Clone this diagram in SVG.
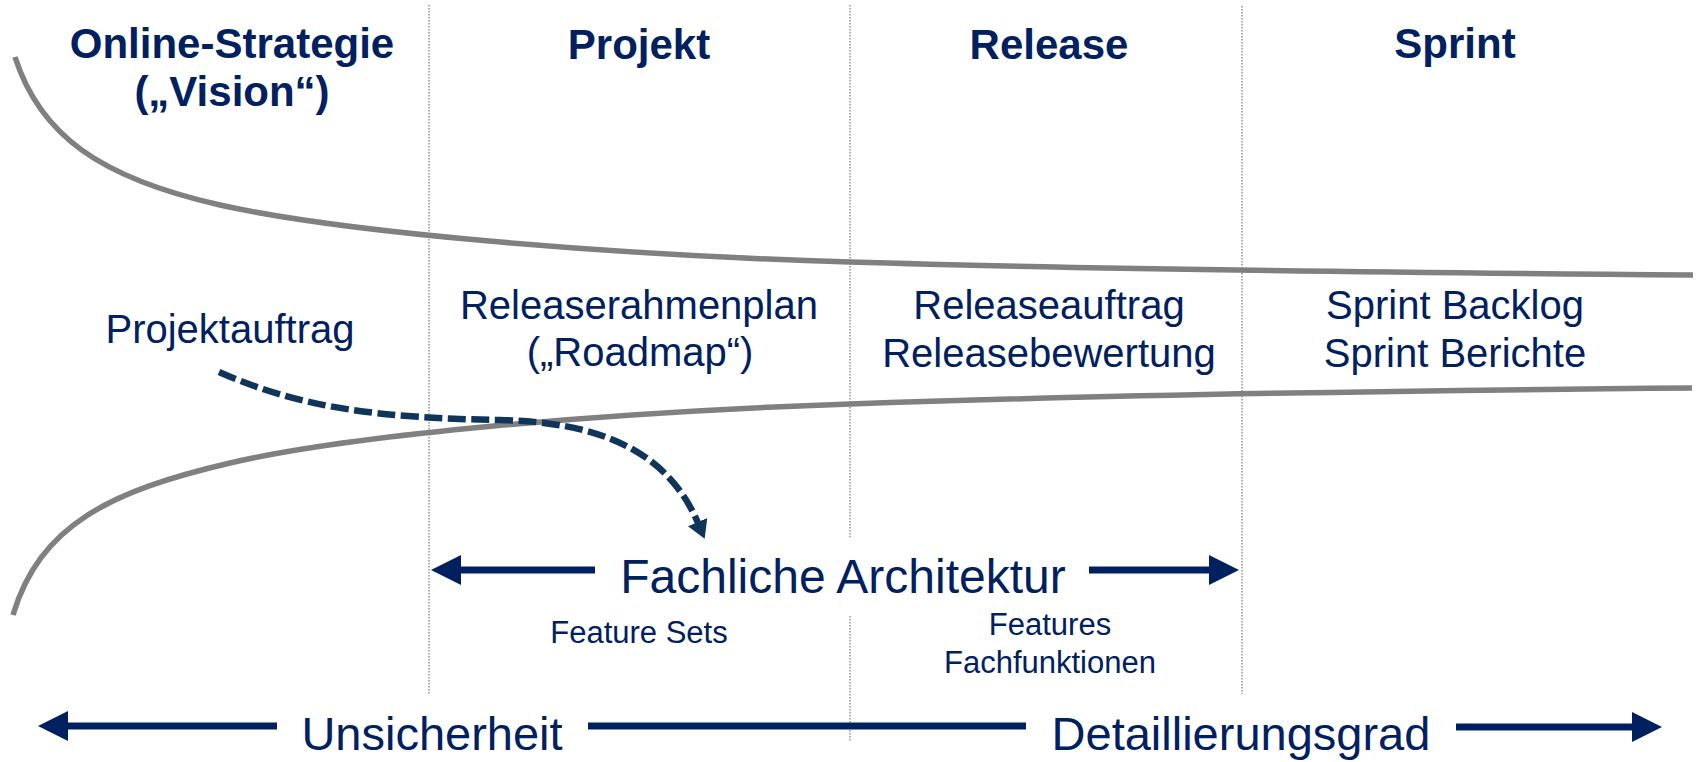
<svg xmlns="http://www.w3.org/2000/svg" width="1702" height="762" viewBox="0 0 1702 762">
  <defs>
    <style>
      .head { font-family: "Liberation Sans", Arial, sans-serif; font-weight: bold; font-size: 42px; fill: #002060; text-anchor: middle; }
      .lbl { font-family: "Liberation Sans", Arial, sans-serif; font-size: 40px; fill: #002060; text-anchor: middle; }
      .big { font-family: "Liberation Sans", Arial, sans-serif; font-size: 47px; fill: #002060; text-anchor: middle; }
      .small { font-family: "Liberation Sans", Arial, sans-serif; font-size: 31px; fill: #002060; text-anchor: middle; }
      .sep { stroke: #808080; stroke-width: 1.3; stroke-dasharray: 1.5 1.5; fill: none; }
      .funnel { stroke: #808080; stroke-width: 5.5; fill: none; }
      .axis { stroke: #002060; stroke-width: 7; fill: none; marker-end: url(#bigHead); }
      .flow { stroke: #0F355A; stroke-width: 6.5; stroke-dasharray: 18 5.5; fill: none; marker-end: url(#smallHead); }
    </style>
    <marker id="bigHead" markerUnits="userSpaceOnUse" markerWidth="30" markerHeight="30" viewBox="0 0 30 30" refX="0" refY="15" orient="auto">
      <path d="M0,0 L30,15 L0,30 z" fill="#002060"/>
    </marker>
    <marker id="smallHead" markerUnits="userSpaceOnUse" markerWidth="19" markerHeight="21" viewBox="0 0 19 21" refX="1" refY="10.5" orient="auto">
      <path d="M0,0 L18,10.5 L0,21 z" fill="#0F355A"/>
    </marker>
  </defs>

  <!-- column separators -->
  <g id="separators">
    <line class="sep" x1="429" y1="5" x2="429" y2="694"/>
    <line class="sep" x1="850" y1="5" x2="850" y2="537"/>
    <line class="sep" x1="850" y1="616" x2="850" y2="741"/>
    <line class="sep" x1="1242" y1="6" x2="1242" y2="694"/>
  </g>

  <!-- funnel boundaries -->
  <g id="funnel">
    <path class="funnel" d="M15,57 C40,135 100,178 220,205 C340,232 600,254.5 850,262 C1100,269.5 1450,273 1693,275"/>
    <path class="funnel" d="M13,615 C40,525 110,491 230,463 C350,435 600,412.75 850,404 C1100,395.25 1450,390 1692,388"/>
  </g>

  <!-- column headings -->
  <g id="col-strategy">
    <text class="head" x="232" y="58">Online-Strategie</text>
    <text class="head" x="232" y="106">(„Vision“)</text>
  </g>
  <g id="col-project">
    <text class="head" x="639" y="59">Projekt</text>
  </g>
  <g id="col-release">
    <text class="head" x="1049" y="59">Release</text>
  </g>
  <g id="col-sprint">
    <text class="head" x="1455" y="58">Sprint</text>
  </g>

  <!-- artefacts per level -->
  <g id="projektauftrag">
    <text class="lbl" x="230" y="343">Projektauftrag</text>
  </g>
  <g id="roadmap">
    <text class="lbl" x="639" y="319">Releaserahmenplan</text>
    <text class="lbl" x="640" y="366">(„Roadmap“)</text>
  </g>
  <g id="release-docs">
    <text class="lbl" x="1049" y="319">Releaseauftrag</text>
    <text class="lbl" x="1049" y="367">Releasebewertung</text>
  </g>
  <g id="sprint-docs">
    <text class="lbl" x="1455" y="319">Sprint Backlog</text>
    <text class="lbl" x="1455" y="367">Sprint Berichte</text>
  </g>

  <!-- architecture span -->
  <g id="architektur">
    <text class="big" x="843" y="593" style="font-size:48px">Fachliche Architektur</text>
    <text class="small" x="639" y="643">Feature Sets</text>
    <text class="small" x="1050" y="635">Features</text>
    <text class="small" x="1050" y="673">Fachfunktionen</text>
  </g>

  <!-- bottom axis labels -->
  <g id="axis-labels">
    <text class="big" x="432" y="750">Unsicherheit</text>
    <text class="big" x="1241" y="750">Detaillierungsgrad</text>
  </g>

  <!-- connectors -->
  <g id="connectors">
    <path class="flow" d="M219,372 C300,408 380,418 500,420 C590,422 665,445 698,523"/>
    <line class="axis" x1="595" y1="570" x2="461" y2="570"/>
    <line class="axis" x1="1089" y1="570" x2="1209" y2="570"/>
    <line class="axis" x1="277" y1="726" x2="68" y2="726"/>
    <line x1="588" y1="726" x2="1026" y2="726" stroke="#002060" stroke-width="7"/>
    <line class="axis" x1="1456" y1="727" x2="1632" y2="727"/>
  </g>
</svg>
